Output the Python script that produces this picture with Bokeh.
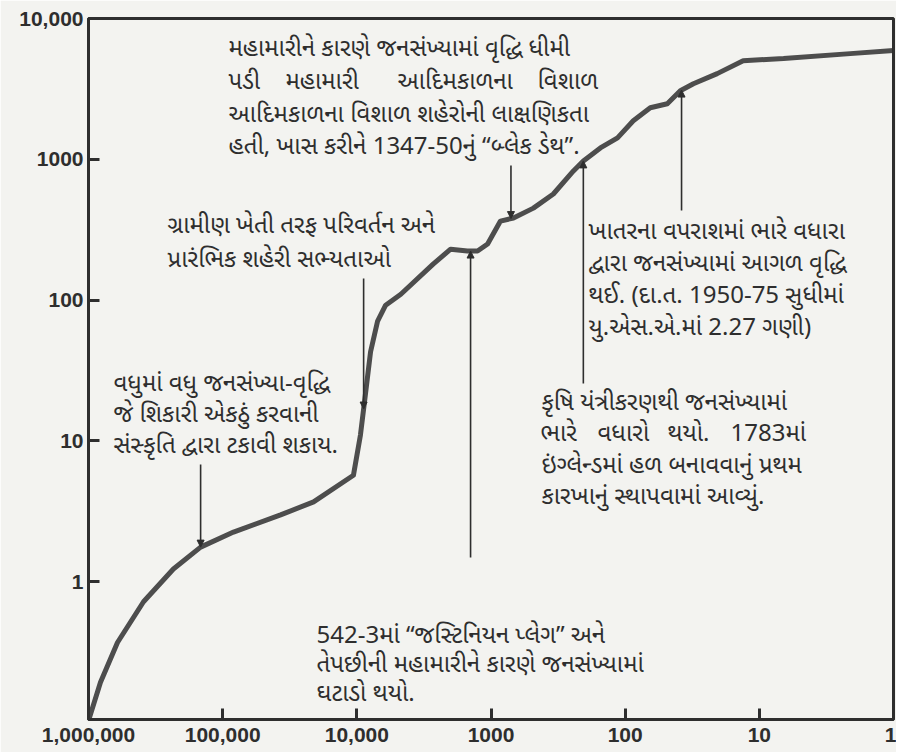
import numpy as np
from bokeh.plotting import figure
from bokeh.models import Range1d, FixedTicker, Arrow, NormalHead, Label, Span
from bokeh.embed import file_html
from bokeh.resources import INLINE

# ---- data: world population (millions) vs. years ago ----
years_ago = [1e6, 814000, 608000, 389000, 233000, 146000, 83000, 37000, 21000,
             10600, 9400, 8600, 7900, 7000, 6100, 4700, 2700, 2000, 1500, 1260,
             1060, 850, 680, 483, 343, 243, 205, 153, 114, 87, 65, 48.5, 38.8,
             31, 20.6, 13.2, 6.6, 2.1, 1]
population = [0.103, 0.193, 0.37, 0.72, 1.23, 1.76, 2.25, 2.98, 3.69,
              5.7, 11, 22, 43, 71, 92, 110, 180, 230, 223, 223,
              250, 364, 383, 450, 567, 827, 974, 1205, 1420, 1878, 2323, 2480, 3070,
              3440, 4060, 5020, 5190, 5630, 5920]

x_ticks = [1e6, 1e5, 1e4, 1e3, 100, 10, 1]
x_tick_labels = ["1,000,000", "100,000", "10,000", "1000", "100", "10", "1"]
y_ticks = [1, 10, 100, 1000, 10000]
y_tick_labels = ["1", "10", "100", "1000", "10,000"]

# event years (years ago) that the annotations point to
event_years = [146000, 8900, 710, 1420, 205, 38]

notes = [
    ["મહામારીને કારણે જનસંખ્યામાં વૃદ્ધિ ધીમી",
     "પડી મહામારી આદિમકાળના વિશાળ",
     "આદિમકાળના વિશાળ શહેરોની લાક્ષણિકતા",
     "હતી, ખાસ કરીને 1347-50નું “બ્લેક ડેથ”."],
    ["ગ્રામીણ ખેતી તરફ પરિવર્તન અને",
     "પ્રારંભિક શહેરી સભ્યતાઓ"],
    ["વધુમાં વધુ જનસંખ્યા-વૃદ્ધિ",
     "જે શિકારી એકઠું કરવાની",
     "સંસ્કૃતિ દ્વારા ટકાવી શકાય."],
    ["ખાતરના વપરાશમાં ભારે વધારા",
     "દ્વારા જનસંખ્યામાં આગળ વૃદ્ધિ",
     "થઈ. (દા.ત. 1950-75 સુધીમાં",
     "યુ.એસ.એ.માં 2.27 ગણી)"],
    ["કૃષિ યંત્રીકરણથી જનસંખ્યામાં",
     "ભારે વધારો થયો. 1783માં",
     "ઇંગ્લેન્ડમાં હળ બનાવવાનું પ્રથમ",
     "કારખાનું સ્થાપવામાં આવ્યું."],
    ["542-3માં “જસ્ટિનિયન પ્લેગ” અને",
     "તેપછીની મહામારીને કારણે જનસંખ્યામાં",
     "ઘટાડો થયો."],
]

# ---- layout (page pixels; the page has no body margin) ----
W, H = 896, 752
FL, FR, FT, FB = 88, 893, 18, 719          # frame edges
XMAX, XMIN = 1e6, 1.0
YMIN, YMAX = 0.105, 10000.0

def X(px):
    f = (px - FL) / (FR - FL)
    return 10 ** (np.log10(XMAX) + f * (np.log10(XMIN) - np.log10(XMAX)))

def Y(py):
    f = (FB - py) / (FB - FT)
    return 10 ** (np.log10(YMIN) + f * (np.log10(YMAX) - np.log10(YMIN)))

INK = "#2e2e2e"
BG = "#f3f3f0"
GUJ = "Noto Sans Gujarati, Noto Serif Gujarati, Lohit Gujarati, sans-serif"
FS = "24px"

p = figure(width=W, height=H, x_axis_type="log", y_axis_type="log",
           x_range=Range1d(XMAX, XMIN), y_range=Range1d(YMIN, YMAX),
           output_backend="svg", toolbar_location=None,
           min_border_left=FL, min_border_right=W - FR,
           min_border_top=FT, min_border_bottom=H - FB)
p.background_fill_color = BG
p.border_fill_color = BG
p.outline_line_color = INK
p.outline_line_width = 3
p.grid.visible = False

for ax, ticks, labels in ((p.xaxis[0], x_ticks, x_tick_labels),
                          (p.yaxis[0], y_ticks, y_tick_labels)):
    ax.ticker = FixedTicker(ticks=ticks)
    ax.major_label_overrides = {t: l for t, l in zip(ticks, labels)}
    ax.axis_line_width = 3
    ax.axis_line_color = INK
    ax.major_tick_in = 11
    ax.major_tick_out = 0
    ax.major_tick_line_width = 3
    ax.major_tick_line_color = INK
    ax.minor_tick_line_color = None
    ax.major_label_text_font = "Liberation Sans"
    ax.major_label_text_font_style = "bold"
    ax.major_label_text_font_size = "21px"
    ax.major_label_text_color = INK
p.xaxis.major_label_standoff = 8
p.yaxis.major_label_standoff = 5

# top and right border of the box
p.add_layout(Span(location=YMAX, dimension="width", line_color=INK, line_width=3))
p.add_layout(Span(location=XMIN, dimension="height", line_color=INK, line_width=3))

# the population curve
p.line(years_ago, population, line_width=5, line_color="#4d4d4d", line_join="round")

# pointer arrows: tail y (page px), head on the curve
lxs = np.log10(np.array(years_ago)[::-1])
lys = np.log10(np.array(population)[::-1])
def on_curve(yr):
    return 10 ** np.interp(np.log10(yr), lxs, lys)

tails_py = [464, 278, 165, 557, 383, 210]
for yr, ty in zip(event_years, tails_py):
    p.add_layout(Arrow(end=NormalHead(size=7, fill_color=INK, line_color=INK, line_width=1),
                       x_start=yr, y_start=Y(ty), x_end=yr, y_end=on_curve(yr),
                       line_color=INK, line_width=1.6))

# annotation texts: (left px, line centres py)
blocks = [(228, [49, 82, 115, 147]), (167, [226, 260]), (113, [384, 415, 446]),
          (588, [232, 264, 296, 328]), (541, [403, 434, 466, 497]),
          (316, [636, 665, 694])]
# spread-out (justified) lines: word left edges (px) keyed by (block, line)
justify = {(0, 1): [228, 285, 397, 537],
           (4, 1): [540, 597, 667, 730]}

def put(xpx, ypx, t):
    p.add_layout(Label(x=X(xpx), y=Y(ypx), text=t, text_font=GUJ,
                       text_font_size=FS, text_color=INK,
                       text_align="left", text_baseline="middle"))

for b, ((lx0, ys), lines) in enumerate(zip(blocks, notes)):
    for i, (t, ty) in enumerate(zip(lines, ys)):
        if (b, i) in justify:
            for w, wx in zip(t.split(" "), justify[(b, i)]):
                put(wx, ty, w)
        else:
            put(lx0, ty, t)

open("out.html", "w").write(file_html(p, INLINE))
